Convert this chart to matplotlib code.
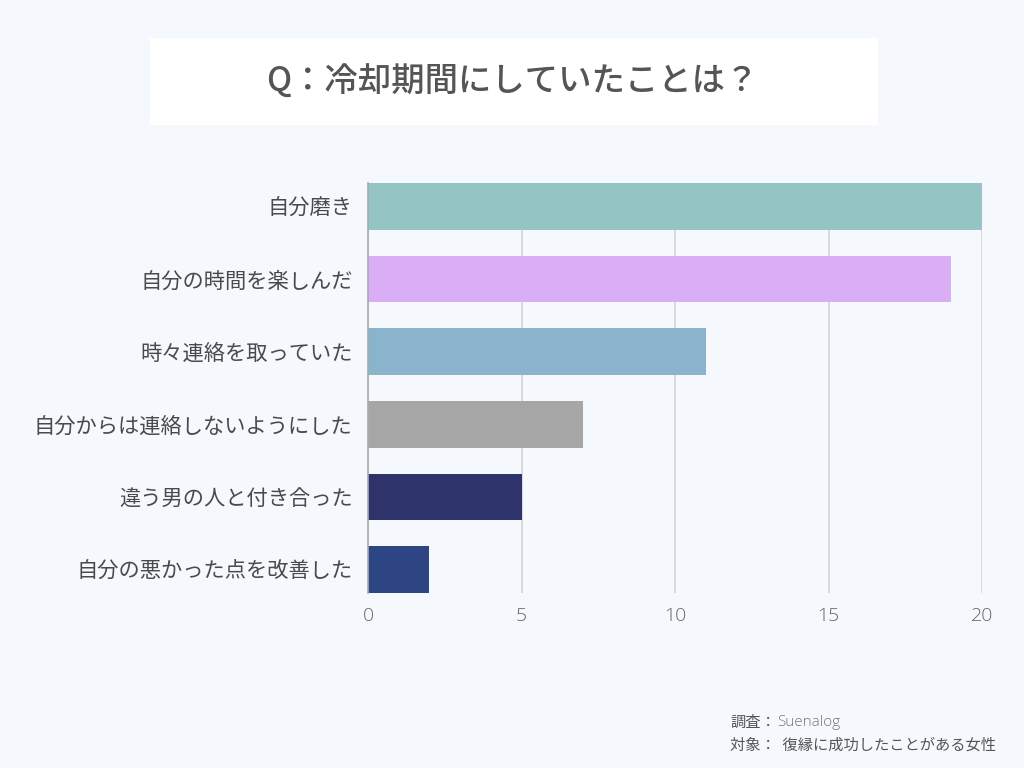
import matplotlib
matplotlib.use("Agg")
import matplotlib.pyplot as plt
from matplotlib.patches import Rectangle

plt.rcParams['font.family'] = ['Noto Sans CJK JP', 'DejaVu Sans']

# データ
labels = ["自分磨き", "自分の時間を楽しんだ", "時々連絡を取っていた",
          "自分からは連絡しないようにした", "違う男の人と付き合った", "自分の悪かった点を改善した"]
values = [20, 19, 11, 7, 5, 2]
colors = ["#95C4C4", "#DAAEF5", "#8AB4CC", "#A6A6A6", "#2F336B", "#2D4583"]
xticks = [0, 5, 10, 15, 20]

bg = "#F5F9FE"
fig = plt.figure(figsize=(10.24, 7.68), dpi=100, facecolor=bg)

# タイトルの白い箱
fig.patches.append(Rectangle((150 / 1024, 1 - 125 / 768), 728 / 1024, 87 / 768,
                             transform=fig.transFigure, facecolor="white",
                             edgecolor="none", zorder=0))
fig.text(0.5, 1 - 82 / 768, "Q：冷却期間にしていたことは？", ha="center", va="center",
         fontsize=24, color="#555555", fontweight="medium")

ax = fig.add_axes([368 / 1024, 1 - 593 / 768, 614 / 1024, 410 / 768])
ax.set_facecolor(bg)
y = range(len(labels))
ax.barh(y, values, height=0.64, color=colors, zorder=3)
ax.set_ylim(len(labels) - 0.68, -0.32)
ax.set_xlim(0, 20)
ax.set_xticks(xticks)
ax.set_yticks(list(y))
ax.set_yticklabels(labels, fontsize=15.3, color="#4A4A4A")
ax.tick_params(axis="y", length=0, pad=11)
ax.tick_params(axis="x", length=0, pad=10, labelsize=14, labelcolor="#666666")
for t in ax.get_xticklabels():
    t.set_fontfamily(["Open Sans", "DejaVu Sans"])
    t.set_fontweight("light")
ax.grid(axis="x", color="#D0D4D8", linewidth=1.2, zorder=0)
for s in ["top", "right", "bottom"]:
    ax.spines[s].set_visible(False)
ax.spines["left"].set_color("#AAAAAA")
ax.spines["left"].set_linewidth(1.2)
ax.spines["left"].set_zorder(4)

fig.text(730 / 1024, 1 - 722 / 768, "調査：", fontsize=11, color="#555555", va="center")
fig.text(777 / 1024, 1 - 722 / 768, "Suenalog", fontsize=11, color="#777777", va="center",
         family=["Open Sans", "DejaVu Sans"], fontweight="light")
fig.text(730 / 1024, 1 - 745 / 768, "対象：  復縁に成功したことがある女性", fontsize=11,
         color="#555555", va="center")

fig.savefig("out.png", dpi=100, facecolor=bg)
